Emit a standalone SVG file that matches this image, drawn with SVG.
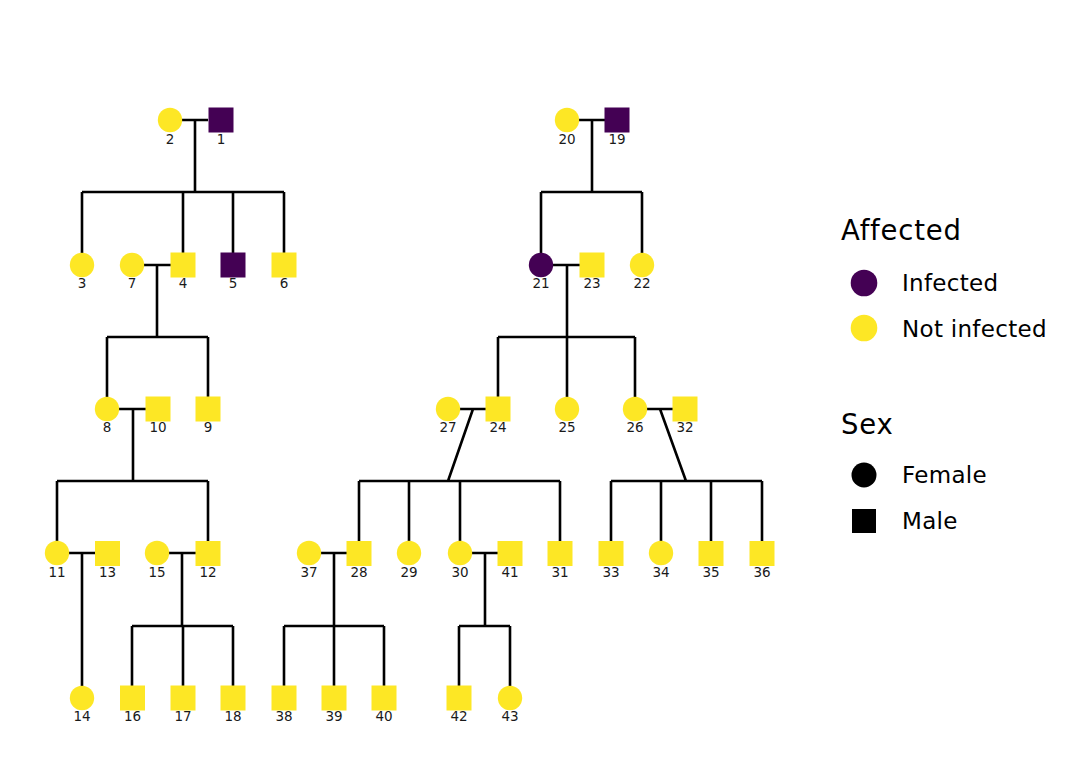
<svg xmlns="http://www.w3.org/2000/svg" width="1075" height="768" viewBox="0 0 1075 768">
<defs>
<style>
.ln{stroke:#000;stroke-width:2.6;fill:none;stroke-linecap:butt}
.y{fill:#FDE725}
.p{fill:#440154}
.k{fill:#000}
.lb{font-family:"DejaVu Sans",sans-serif;font-size:13.5px;fill:#1a1a1a;text-anchor:middle}
.lt{font-family:"DejaVu Sans",sans-serif;font-size:23px;letter-spacing:0.3px;fill:#000}
.lh{font-family:"DejaVu Sans",sans-serif;font-size:27.5px;letter-spacing:0.8px;fill:#000}
</style>
<circle id="fc" r="12.2"/>
<rect id="ms" x="-12.5" y="-12.5" width="25" height="25"/>
</defs>
<rect width="1075" height="768" fill="#fff"/>
<g id="connectors">
<path class="ln" d="M182,120H208M195,120V192M82,192H284M82,192V253M183,192V253M233,192V253M284,192V253"/>
<path class="ln" d="M144,265H171M157,265V337M107,337H208M107,337V397M208,337V397"/>
<path class="ln" d="M119,409H146M133,409V481M57,481H208M57,481V541M208,481V541"/>
<path class="ln" d="M69,553H95M82,553V686"/>
<path class="ln" d="M169,553H196M182,553V626M132,626H233M132,626V686M183,626V686M233,626V686"/>
<path class="ln" d="M579,120H605M592,120V192M541,192H642M541,192V253M642,192V253"/>
<path class="ln" d="M553,265H580M567,265V337M498,337H635M498,337V397M567,337V397M635,337V397"/>
<path class="ln" d="M460,409H486M473,409L448,481M359,481H560M359,481V541M409,481V541M460,481V541M560,481V541"/>
<path class="ln" d="M647,409H673M660,409L686,481M611,481H762M611,481V541M661,481V541M711,481V541M762,481V541"/>
<path class="ln" d="M321,553H347M334,553V626M284,626H384M284,626V686M334,626V686M384,626V686"/>
<path class="ln" d="M472,553H498M485,553V626M459,626H510M459,626V686M510,626V686"/>
</g>
<g id="n2"><use href="#fc" x="170" y="120" class="y"/><text class="lb" x="170" y="144">2</text></g>
<g id="n1"><use href="#ms" x="221" y="120" class="p"/><text class="lb" x="221" y="144">1</text></g>
<g id="n20"><use href="#fc" x="567" y="120" class="y"/><text class="lb" x="567" y="144">20</text></g>
<g id="n19"><use href="#ms" x="617" y="120" class="p"/><text class="lb" x="617" y="144">19</text></g>

<g id="n3"><use href="#fc" x="82" y="265" class="y"/><text class="lb" x="82" y="288">3</text></g>
<g id="n7"><use href="#fc" x="132" y="265" class="y"/><text class="lb" x="132" y="288">7</text></g>
<g id="n4"><use href="#ms" x="183" y="265" class="y"/><text class="lb" x="183" y="288">4</text></g>
<g id="n5"><use href="#ms" x="233" y="265" class="p"/><text class="lb" x="233" y="288">5</text></g>
<g id="n6"><use href="#ms" x="284" y="265" class="y"/><text class="lb" x="284" y="288">6</text></g>
<g id="n21"><use href="#fc" x="541" y="265" class="p"/><text class="lb" x="541" y="288">21</text></g>
<g id="n23"><use href="#ms" x="592" y="265" class="y"/><text class="lb" x="592" y="288">23</text></g>
<g id="n22"><use href="#fc" x="642" y="265" class="y"/><text class="lb" x="642" y="288">22</text></g>

<g id="n8"><use href="#fc" x="107" y="409" class="y"/><text class="lb" x="107" y="432">8</text></g>
<g id="n10"><use href="#ms" x="158" y="409" class="y"/><text class="lb" x="158" y="432">10</text></g>
<g id="n9"><use href="#ms" x="208" y="409" class="y"/><text class="lb" x="208" y="432">9</text></g>
<g id="n27"><use href="#fc" x="448" y="409" class="y"/><text class="lb" x="448" y="432">27</text></g>
<g id="n24"><use href="#ms" x="498" y="409" class="y"/><text class="lb" x="498" y="432">24</text></g>
<g id="n25"><use href="#fc" x="567" y="409" class="y"/><text class="lb" x="567" y="432">25</text></g>
<g id="n26"><use href="#fc" x="635" y="409" class="y"/><text class="lb" x="635" y="432">26</text></g>
<g id="n32"><use href="#ms" x="685" y="409" class="y"/><text class="lb" x="685" y="432">32</text></g>

<g id="n11"><use href="#fc" x="57" y="553" class="y"/><text class="lb" x="57" y="577">11</text></g>
<g id="n13"><use href="#ms" x="107.5" y="553.5" class="y"/><text class="lb" x="107.5" y="577">13</text></g>
<g id="n15"><use href="#fc" x="157" y="553" class="y"/><text class="lb" x="157" y="577">15</text></g>
<g id="n12"><use href="#ms" x="208" y="553.5" class="y"/><text class="lb" x="208" y="577">12</text></g>
<g id="n37"><use href="#fc" x="309" y="553" class="y"/><text class="lb" x="309" y="577">37</text></g>
<g id="n28"><use href="#ms" x="359" y="553.5" class="y"/><text class="lb" x="359" y="577">28</text></g>
<g id="n29"><use href="#fc" x="409" y="553" class="y"/><text class="lb" x="409" y="577">29</text></g>
<g id="n30"><use href="#fc" x="460" y="553" class="y"/><text class="lb" x="460" y="577">30</text></g>
<g id="n41"><use href="#ms" x="510" y="553.5" class="y"/><text class="lb" x="510" y="577">41</text></g>
<g id="n31"><use href="#ms" x="560" y="553.5" class="y"/><text class="lb" x="560" y="577">31</text></g>
<g id="n33"><use href="#ms" x="611" y="553.5" class="y"/><text class="lb" x="611" y="577">33</text></g>
<g id="n34"><use href="#fc" x="661" y="553" class="y"/><text class="lb" x="661" y="577">34</text></g>
<g id="n35"><use href="#ms" x="711" y="553.5" class="y"/><text class="lb" x="711" y="577">35</text></g>
<g id="n36"><use href="#ms" x="762" y="553.5" class="y"/><text class="lb" x="762" y="577">36</text></g>

<g id="n14"><use href="#fc" x="82" y="698" class="y"/><text class="lb" x="82" y="721">14</text></g>
<g id="n16"><use href="#ms" x="132.5" y="698" class="y"/><text class="lb" x="132.5" y="721">16</text></g>
<g id="n17"><use href="#ms" x="183" y="698" class="y"/><text class="lb" x="183" y="721">17</text></g>
<g id="n18"><use href="#ms" x="233" y="698" class="y"/><text class="lb" x="233" y="721">18</text></g>
<g id="n38"><use href="#ms" x="284" y="698" class="y"/><text class="lb" x="284" y="721">38</text></g>
<g id="n39"><use href="#ms" x="334" y="698" class="y"/><text class="lb" x="334" y="721">39</text></g>
<g id="n40"><use href="#ms" x="384" y="698" class="y"/><text class="lb" x="384" y="721">40</text></g>
<g id="n42"><use href="#ms" x="459" y="698" class="y"/><text class="lb" x="459" y="721">42</text></g>
<g id="n43"><use href="#fc" x="510" y="698" class="y"/><text class="lb" x="510" y="721">43</text></g>

<g id="legend">
<text class="lh" x="841" y="240">Affected</text>
<circle cx="864" cy="283" r="13.3" class="p"/>
<text class="lt" x="902" y="291">Infected</text>
<circle cx="864" cy="328" r="13.3" class="y"/>
<text class="lt" x="902" y="337">Not infected</text>
<text class="lh" x="841" y="434">Sex</text>
<circle cx="864" cy="475" r="12.5" class="k"/>
<text class="lt" x="902" y="483">Female</text>
<rect x="852" y="509" width="24" height="24" class="k"/>
<text class="lt" x="902" y="529">Male</text>
</g>
</svg>
